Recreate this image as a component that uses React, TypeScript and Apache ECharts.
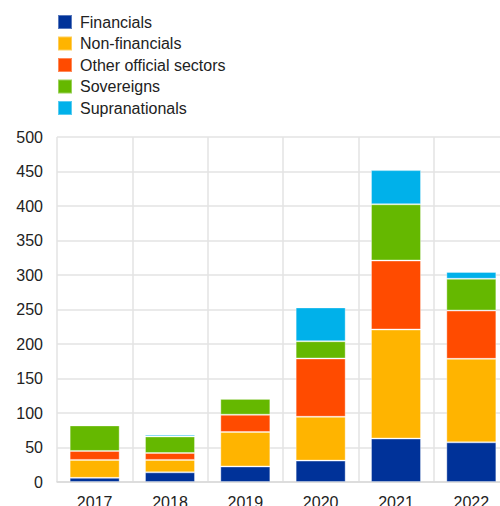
import React, { useEffect, useRef } from "react";
import * as echarts from "echarts";

const years = ["2017", "2018", "2019", "2020", "2021", "2022"];
const financials = [6, 14, 22.5, 31, 63, 57.5];
const nonFinancials = [26, 18, 50, 63.5, 158, 121];
const otherOfficial = [13, 10, 25, 84.5, 100, 70];
const sovereigns = [37, 24, 23, 25, 81.5, 46];
const supranationals = [0.8, 2.5, 0, 49, 49.5, 10];

const seriesNames = ["Financials", "Non-financials", "Other official sectors", "Sovereigns", "Supranationals"];
const seriesColors = ["#003299", "#FFB400", "#FF4B00", "#65B800", "#00B1EA"];
const seriesData = [financials, nonFinancials, otherOfficial, sovereigns, supranationals];

export default function App() {
  const ref = useRef<HTMLDivElement>(null);
  useEffect(() => {
    if (!ref.current) return;
    const chart = echarts.init(ref.current, undefined, { renderer: "svg" });
    chart.setOption({
      animation: false,
      textStyle: { fontFamily: "Liberation Sans, Arial, sans-serif" },
      legend: {
        orient: "vertical",
        left: 57,
        top: 14,
        padding: 0,
        itemWidth: 14,
        itemHeight: 14,
        itemGap: 5.5,
        icon: "rect",
        data: seriesNames,
        textStyle: { fontSize: 16, color: "#222", padding: [0, 0, 0, 3] },
      },
      grid: { left: 57, right: -9, top: 137, bottom: 24, outerBoundsMode: "none", containLabel: false },
      xAxis: {
        type: "category",
        data: years,
        axisTick: { show: false },
        axisLine: { lineStyle: { color: "#d9d9d9", width: 1.5 } },
        axisLabel: { fontSize: 16, color: "#222", margin: 12 },
        splitLine: { show: true, lineStyle: { color: "#e3e3e3", width: 1.5 } },
      },
      yAxis: {
        type: "value",
        min: 0,
        max: 500,
        interval: 50,
        axisLine: { show: false },
        axisTick: { show: false },
        axisLabel: { fontSize: 16, color: "#222", margin: 14 },
        splitLine: { lineStyle: { color: "#e3e3e3", width: 1.5 } },
      },
      series: seriesNames.map((name, i) => ({
        name,
        type: "bar",
        stack: "total",
        barWidth: 50,
        data: seriesData[i],
        itemStyle: {
          color: seriesColors[i],
          borderColor: "rgba(255,255,255,0.35)",
          borderWidth: 1,
        },
      })),
    });
    return () => chart.dispose();
  }, []);
  return <div ref={ref} style={{ width: 500, height: 506, position: "absolute", left: 0, top: 0 }} />;
}
